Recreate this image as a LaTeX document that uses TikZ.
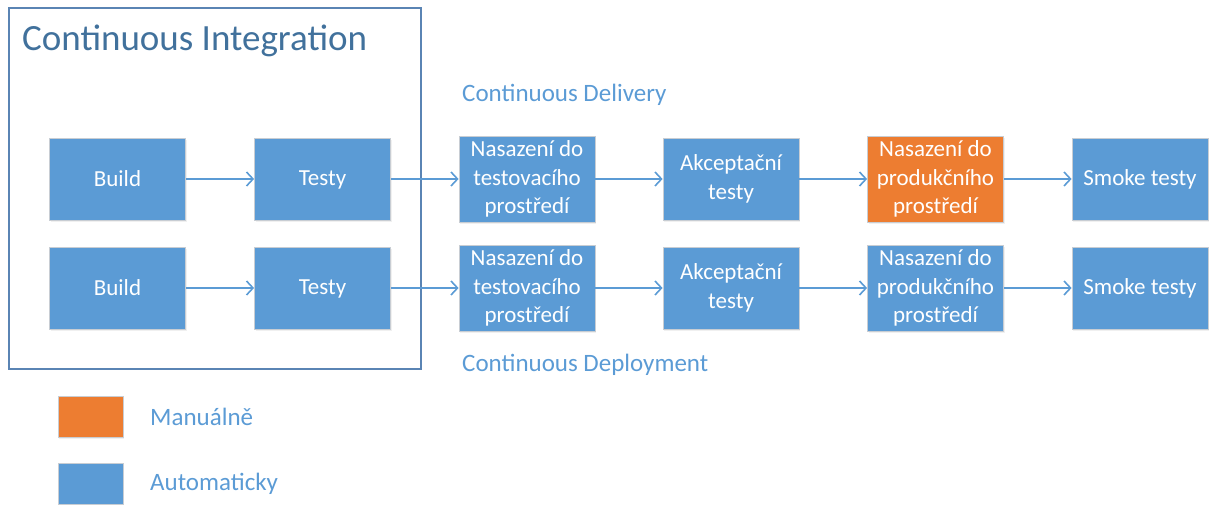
\documentclass[tikz,border=0pt]{standalone}
\usepackage{fontspec}
\setmainfont{Carlito}
\usetikzlibrary{arrows.meta,shadows}
\definecolor{boxblue}{HTML}{5B9BD5}
\definecolor{boxorange}{HTML}{ED7D31}
\definecolor{frameblue}{HTML}{5A84B4}
\definecolor{titleblue}{HTML}{41719C}
\definecolor{edgegray}{HTML}{C8CDD3}
\tikzset{
  stage/.style={draw=edgegray, line width=0.8pt, fill=boxblue, text=white,
    minimum width=136pt, minimum height=82pt, align=center, inner sep=0pt,
    font=\fontsize{23}{28.5}\selectfont,
    drop shadow={shadow xshift=1pt, shadow yshift=-2pt, opacity=0.12}},
  tall/.style={minimum height=86pt},
  manual/.style={fill=boxorange},
  flow/.style={draw=boxblue, line width=1.6pt,
    -{Straight Barb[length=6.5pt,width=14pt,line width=1.6pt]}},
  caption/.style={text=boxblue, anchor=west, inner sep=0pt,
    font=\fontsize{25}{28}\selectfont},
  swatch/.style={draw=edgegray, line width=0.8pt, minimum width=65pt,
    minimum height=41pt, inner sep=0pt,
    drop shadow={shadow xshift=1pt, shadow yshift=-2pt, opacity=0.12}}
}
\begin{document}
\begin{tikzpicture}[x=1pt,y=-1pt]
\useasboundingbox (0,0) rectangle (1216,505);
% Continuous Integration frame
\node[draw=frameblue, line width=1.3pt, minimum width=412pt, minimum height=361pt,
  inner sep=0pt] (ci) at (215,188.5) {};
\node[anchor=base west, inner sep=0pt, text=titleblue,
  font=\fontsize{37}{40}\selectfont] (cititle) at (22,51) {Continuous Integration};
% Continuous Delivery pipeline
\node[caption] (cdel) at (462,95) {Continuous Delivery};
\node[stage] (b1) at (117.5,179) {Build};
\node[stage] (t1) at (322.5,179) {Testy\vphantom{l}};
\node[stage,tall] (n1) at (527,179) {Nasazení do\\testovacího\\prostředí};
\node[stage] (a1) at (731,179) {Akceptační\\testy};
\node[stage,tall,manual] (p1) at (935.5,179) {Nasazení do\\produkčního\\prostředí};
\node[stage] (s1) at (1140,179) {Smoke testy};
% Continuous Deployment pipeline
\node[stage] (b2) at (117.5,288) {Build};
\node[stage] (t2) at (322.5,288) {Testy\vphantom{l}};
\node[stage,tall] (n2) at (527,288) {Nasazení do\\testovacího\\prostředí};
\node[stage] (a2) at (731,288) {Akceptační\\testy};
\node[stage,tall] (p2) at (935.5,288) {Nasazení do\\produkčního\\prostředí};
\node[stage] (s2) at (1140,288) {Smoke testy};
\node[caption] (cdep) at (462,365) {Continuous Deployment};
% connectors
\foreach \r in {1,2}{
  \draw[flow] (b\r) -- (t\r);
  \draw[flow] (t\r) -- (n\r);
  \draw[flow] (n\r) -- (a\r);
  \draw[flow] (a\r) -- (p\r);
  \draw[flow] (p\r) -- (s\r);
}
% legend
\node[swatch, fill=boxorange] (lman) at (90.5,416.5) {};
\node[caption] (tman) at (150,417) {Manuálně};
\node[swatch, fill=boxblue] (lauto) at (90.5,483.5) {};
\node[caption] (tauto) at (150,484) {Automaticky};
\end{tikzpicture}
\end{document}
